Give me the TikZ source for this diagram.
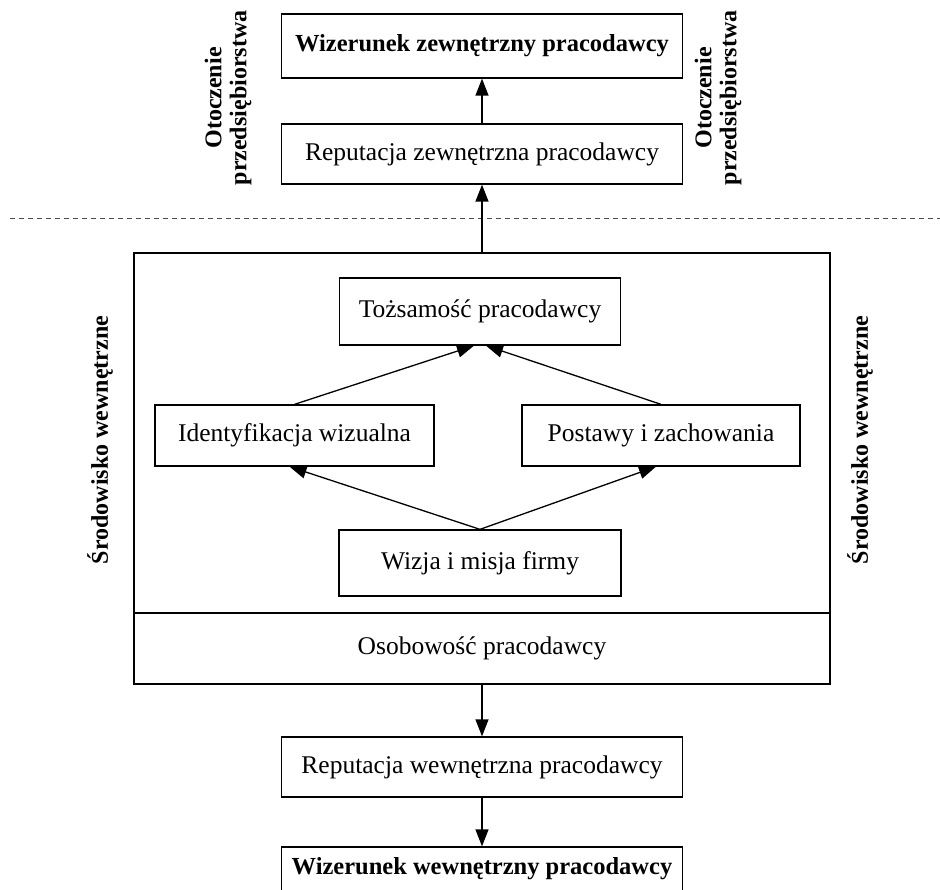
\documentclass[tikz,border=0pt]{standalone}
\usepackage{fontspec}
\setmainfont{Liberation Serif}
\usetikzlibrary{arrows.meta}
\begin{document}
\begin{tikzpicture}[x=1pt,y=-1pt,
  txt/.style={font=\fontsize{25.5}{30}\selectfont},
  boldtxt/.style={font=\fontsize{24.5}{29}\selectfont\bfseries},
  box/.style={draw, line width=1.3pt, inner sep=0pt, minimum width=401pt, minimum height=60pt, txt},
  smallbox/.style={draw, line width=1.3pt, inner sep=0pt, minimum width=281pt, minimum height=64pt, txt},
  frame/.style={draw, line width=2.8pt, inner sep=0pt},
  arr/.style={-{Triangle[length=17pt,width=13pt]}, line width=1.3pt},
  side/.style={rotate=90, align=center, font=\fontsize{24}{25}\selectfont\bfseries}
]
\clip (0,0) rectangle (940,890);
\fill[white] (0,0) rectangle (940,890);

% top part
\node[box, boldtxt, minimum height=64pt] (wz) at (482,46) {Wizerunek zewnętrzny pracodawcy};
\node[box] (rz) at (482,154) {Reputacja zewnętrzna pracodawcy};
\draw[arr] (rz.north) -- (wz.south);

\node[side] (otl) at (228,98) {Otoczenie\\przedsiębiorstwa};
\node[side] (otr) at (718,98) {Otoczenie\\przedsiębiorstwa};

\coordinate (dl) at (10,219);
\coordinate (dr) at (940,219);
\draw[dashed, dash pattern=on 5pt off 4pt, line width=1pt, gray!60!black] (dl) -- (dr);

% big frame
\node[frame, minimum width=696pt, minimum height=360pt] (outer) at (482,433) {};
\node[frame, minimum width=696pt, minimum height=71pt, txt] (oso) at (482,648.5) {Osobowość pracodawcy};
\draw[arr] (outer.north) -- (rz.south);

\node[side] (srl) at (100,440) {Środowisko wewnętrzne};
\node[side] (srr) at (860,440) {Środowisko wewnętrzne};

\node[smallbox, minimum height=67pt] (toz) at (480,311.5) {Tożsamość pracodawcy};
\node[smallbox, minimum width=279pt, minimum height=61pt] (ide) at (294.5,435.5) {Identyfikacja wizualna};
\node[smallbox, minimum width=278pt, minimum height=61pt] (pos) at (661,435.5) {Postawy i zachowania};
\node[smallbox, minimum width=282pt, minimum height=66pt] (wiz) at (480,563) {Wizja i misja firmy};

\draw[arr] (ide.north) -- ([xshift=-6pt]toz.south);
\draw[arr] (pos.north) -- ([xshift=6pt]toz.south);
\draw[arr] (wiz.north) -- ([xshift=-5pt]ide.south);
\draw[arr] (wiz.north) -- ([xshift=-5pt]pos.south);

% bottom part
\node[box] (rw) at (482,767) {Reputacja wewnętrzna pracodawcy};
\node[box, minimum height=64pt] (ww) at (482,879) {};
\node[boldtxt, anchor=base] (wwt) at (482,874) {Wizerunek wewnętrzny pracodawcy};
\draw[arr] (oso.south) -- (rw.north);
\draw[arr] (rw.south) -- (ww.north);
\end{tikzpicture}
\end{document}
